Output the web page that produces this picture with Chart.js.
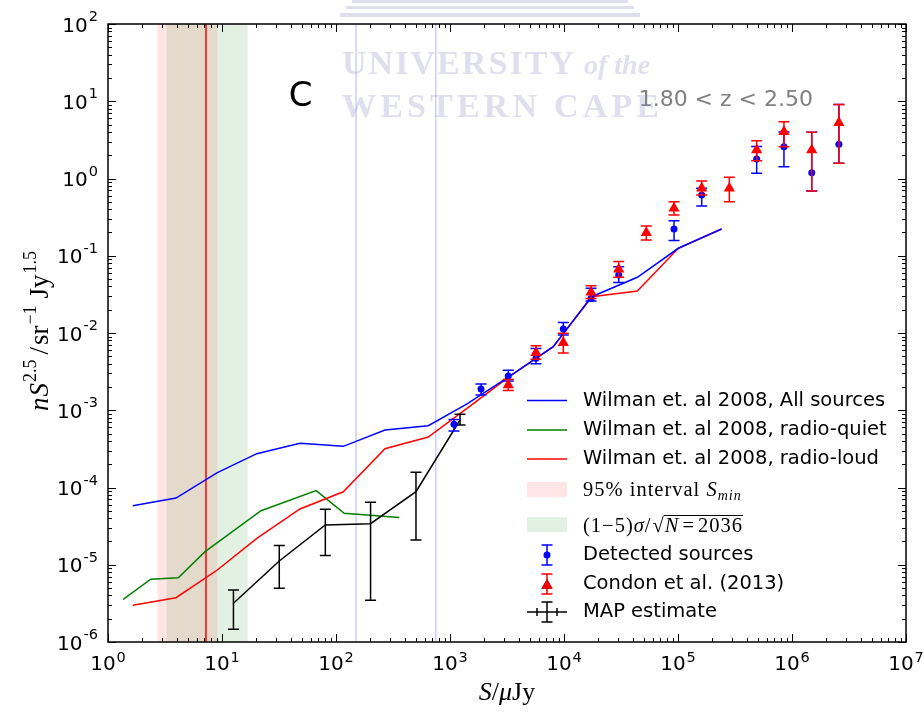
<!DOCTYPE html>
<html lang="en">
<head>
<meta charset="UTF-8" />
<title>Euclidean normalised source counts, 1.80 &lt; z &lt; 2.50</title>
<script src="https://cdn.jsdelivr.net/npm/chart.js@4.4.0/dist/chart.umd.min.js"></script>
<style>
  body { margin: 0; background: #fff; }
  canvas { display: block; }
</style>
</head>
<body>
<canvas id="chart" width="924" height="717"></canvas>
<script>
// Wilman et al. (2008) simulated counts, flux bins in uJy
const wilmanS = [1.65, 3.95, 9.1, 20.2, 48.3, 116, 269, 645, 1400, 3400, 8050, 17500, 44000, 100700, 241000];
const wilmanAll = [5.8e-5, 7.3e-5, 1.56e-4, 2.74e-4, 3.73e-4, 3.41e-4, 5.55e-4, 6.3e-4, 1.2e-3, 2.8e-3, 6.65e-3, 2.95e-2, 5.26e-2, 0.125, 0.222];
const wilmanLoud = [3.0e-6, 3.74e-6, 8.55e-6, 2.2e-5, 5.27e-5, 8.8e-5, 3.18e-4, 4.5e-4, 1.05e-3, 2.8e-3, 6.65e-3, 2.95e-2, 3.5e-2, 0.125, 0.222];
const quietS = [1.36, 2.37, 4.14, 7.1, 22, 67, 118, 359];
const wilmanQuiet = [3.57e-6, 6.5e-6, 6.8e-6, 1.48e-5, 5.0e-5, 9.1e-5, 4.63e-5, 4.1e-5];

// detected sources
const detS = [1084, 1870, 3245, 5680, 9860, 17260, 30200, 92300, 161400, 490000, 850000, 1490000, 2580000];
const detN = [6.6e-4, 1.88e-3, 2.77e-3, 4.7e-3, 1.13e-2, 2.8e-2, 5.63e-2, 0.222, 0.61, 1.79, 2.58, 1.19, 2.77];
const detHi = [7.6e-4, 2.19e-3, 3.3e-3, 6.3e-3, 1.37e-2, 3.8e-2, 7.2e-2, 0.284, 0.746, 2.6, 4.0, 3.96, 9.1];
const detLo = [5.4e-4, 1.57e-3, 2.4e-3, 4.0e-3, 9.4e-3, 2.6e-2, 4.5e-2, 0.157, 0.44, 1.17, 1.42, 0.69, 1.58];

// Condon et al. (2013)
const condonS = [3245, 5680, 9860, 17260, 30200, 52700, 92300, 161400, 282000, 490000, 850000, 1490000, 2580000];
const condonN = [2.12e-3, 5.56e-3, 7.5e-3, 3.36e-2, 6.67e-2, 0.199, 0.411, 0.746, 0.746, 2.34, 4.03, 2.34, 5.28];
const condonHi = [2.5e-3, 6.85e-3, 9.9e-3, 4.1e-2, 8.4e-2, 0.243, 0.5, 0.93, 1.04, 3.08, 5.43, 3.96, 9.1];
const condonLo = [1.8e-3, 4.57e-3, 5.5e-3, 2.8e-2, 5.26e-2, 0.16, 0.337, 0.61, 0.5, 1.7, 2.58, 0.69, 1.58];

// MAP estimate
const mapS = [12.6, 31.8, 80.6, 201, 503, 1224];
const mapN = [3.17e-6, 1.12e-5, 3.27e-5, 3.4e-5, 8.83e-5, 7.48e-4];
const mapHi = [4.71e-6, 1.77e-5, 5.22e-5, 6.43e-5, 1.57e-4, 8.85e-4];
const mapLo = [1.46e-6, 4.95e-6, 1.32e-5, 3.47e-6, 2.09e-5, 6.44e-4];

// vertical markers (uJy)
const sminBand = [2.71, 9.1];
const noiseBand = [3.27, 16.8];
const sminLine = 7.19;
const markLines = [150, 750];

// axis decades
const xDecades = [0, 1, 2, 3, 4, 5, 6, 7];
const yDecades = [-6, -5, -4, -3, -2, -1, 0, 1, 2];

const SANS = '"DejaVu Sans", sans-serif';
const SERIF = '"Liberation Serif", serif';

const pts = (xs, ys) => xs.map((x, i) => ({ x: x, y: ys[i] }));

// write a list of [text, font, dy, gapAfter] pieces one after another
function richText(ctx, parts, x, y, align) {
  let w = 0;
  parts.forEach(p => { ctx.font = p[1]; w += ctx.measureText(p[0]).width + (p[3] || 0); });
  let cx = align === 'center' ? x - w / 2 : (align === 'right' ? x - w : x);
  const pos = [];
  parts.forEach(p => {
    ctx.font = p[1];
    pos.push(cx);
    ctx.fillText(p[0], cx, y + (p[2] || 0));
    cx += ctx.measureText(p[0]).width + (p[3] || 0);
  });
  pos.push(cx);
  return pos;
}

const bands = {
  id: 'bands',
  beforeDatasetsDraw(chart) {
    const { ctx, chartArea: a, scales: { x } } = chart;
    ctx.save();
    ctx.fillStyle = 'rgba(255,0,0,0.1)';
    ctx.fillRect(x.getPixelForValue(sminBand[0]), a.top,
      x.getPixelForValue(sminBand[1]) - x.getPixelForValue(sminBand[0]), a.bottom - a.top);
    ctx.fillStyle = 'rgba(0,128,0,0.11)';
    ctx.fillRect(x.getPixelForValue(noiseBand[0]), a.top,
      x.getPixelForValue(noiseBand[1]) - x.getPixelForValue(noiseBand[0]), a.bottom - a.top);
    ctx.lineWidth = 1.5;
    ctx.strokeStyle = 'rgba(0,0,255,0.2)';
    markLines.forEach(v => {
      const px = x.getPixelForValue(v);
      ctx.beginPath(); ctx.moveTo(px, a.top); ctx.lineTo(px, a.bottom); ctx.stroke();
    });
    ctx.strokeStyle = 'red';
    const px = Math.round(x.getPixelForValue(sminLine));
    ctx.beginPath(); ctx.moveTo(px, a.top); ctx.lineTo(px, a.bottom); ctx.stroke();
    ctx.restore();
  }
};

const errorBars = {
  id: 'errorBars',
  beforeDatasetDraw(chart, args) {
    const ds = chart.data.datasets[args.index];
    if (!ds.errHi) return;
    const { ctx, scales: { x, y } } = chart;
    ctx.save();
    ctx.strokeStyle = ds.errColor;
    ctx.lineWidth = 1.5;
    ds.data.forEach((p, i) => {
      const px = x.getPixelForValue(p.x);
      const top = y.getPixelForValue(ds.errHi[i]);
      const bot = y.getPixelForValue(ds.errLo[i]);
      ctx.beginPath();
      ctx.moveTo(px, top); ctx.lineTo(px, bot);
      ctx.moveTo(px - 5.5, top); ctx.lineTo(px + 5.5, top);
      ctx.moveTo(px - 5.5, bot); ctx.lineTo(px + 5.5, bot);
      ctx.stroke();
    });
    ctx.restore();
  }
};

const frame = {
  id: 'frame',
  afterDraw(chart) {
    const { ctx, chartArea: a, scales: { x, y } } = chart;
    ctx.save();
    ctx.strokeStyle = '#000';
    ctx.fillStyle = '#000';

    // inward ticks on all four sides
    ctx.lineWidth = 1;
    ctx.beginPath();
    xDecades.forEach(d => {
      for (let m = 1; m < 10; m++) {
        if (d === xDecades[xDecades.length - 1] && m > 1) break;
        const px = Math.round(x.getPixelForValue(m * Math.pow(10, d))) + 0.5;
        const len = m === 1 ? 8 : 4;
        ctx.moveTo(px, a.bottom); ctx.lineTo(px, a.bottom - len);
        ctx.moveTo(px, a.top); ctx.lineTo(px, a.top + len);
      }
    });
    yDecades.forEach(d => {
      for (let m = 1; m < 10; m++) {
        if (d === yDecades[yDecades.length - 1] && m > 1) break;
        const py = Math.round(y.getPixelForValue(m * Math.pow(10, d))) + 0.5;
        const len = m === 1 ? 8 : 4;
        ctx.moveTo(a.left, py); ctx.lineTo(a.left + len, py);
        ctx.moveTo(a.right, py); ctx.lineTo(a.right - len, py);
      }
    });
    ctx.stroke();
    ctx.lineWidth = 1.5;
    ctx.strokeRect(a.left, a.top, a.right - a.left, a.bottom - a.top);

    // tick labels 10^k
    ctx.textBaseline = 'alphabetic';
    const big = '20px ' + SANS, sup = '14.5px ' + SANS;
    xDecades.forEach(d => {
      const px = x.getPixelForValue(Math.pow(10, d));
      ctx.font = big; const w1 = ctx.measureText('10').width;
      ctx.font = sup; const w2 = ctx.measureText(String(d)).width;
      const s = px - (w1 + w2 + 1) / 2;
      ctx.font = big; ctx.fillText('10', s, 670);
      ctx.font = sup; ctx.fillText(String(d), s + w1 + 1, 661.5);
    });
    yDecades.forEach(d => {
      const py = y.getPixelForValue(Math.pow(10, d));
      const e = String(d);
      ctx.font = sup; const w2 = ctx.measureText(e).width;
      ctx.font = big; const w1 = ctx.measureText('10').width;
      const s = 98 - w2 - 1 - w1;
      ctx.fillText('10', s, py + 7.5);
      ctx.font = sup; ctx.fillText(e, s + w1 + 1, py - 3);
    });

    // axis titles
    richText(ctx, [
      ['S', 'italic 26px ' + SERIF],
      ['/', '26px ' + SERIF],
      ['\u03bc', 'italic 26px ' + SERIF],
      ['Jy', '26px ' + SERIF]
    ], (a.left + a.right) / 2, 700, 'center');

    ctx.save();
    ctx.translate(48, 331);
    ctx.rotate(-Math.PI / 2);
    richText(ctx, [
      ['n', 'italic 27px ' + SERIF, 0, 1],
      ['S', 'italic 27px ' + SERIF, 0, 1],
      ['2.5', '18px ' + SERIF, -12, 5],
      ['/', '27px ' + SERIF, 0, 2],
      ['sr', '27px ' + SERIF, 0, 1],
      ['\u22121', '18px ' + SERIF, -12, 7],
      ['Jy', '27px ' + SERIF, 0, 1],
      ['1.5', '18px ' + SERIF, -12]
    ], 0, 0, 'center');
    ctx.restore();

    // panel letter and redshift range
    ctx.font = '34px ' + SANS;
    ctx.textAlign = 'center';
    ctx.fillText('C', 300.5, 106);
    ctx.textAlign = 'right';
    ctx.fillStyle = '#808080';
    ctx.font = '22px ' + SANS;
    ctx.fillText('1.80 < z < 2.50', 813, 106);
    ctx.textAlign = 'left';
    ctx.restore();
  }
};

const legendBox = {
  id: 'legendBox',
  afterDraw(chart) {
    const { ctx } = chart;
    const x0 = 527, x1 = 567, xm = 547, tx = 583;
    ctx.save();
    ctx.textBaseline = 'middle';
    ctx.font = '19.5px ' + SANS;
    ctx.fillStyle = '#000';
    ctx.lineWidth = 1.5;

    [['blue', 'Wilman et. al 2008, All sources', 400.5],
     ['green', 'Wilman et. al 2008, radio-quiet', 430],
     ['red', 'Wilman et. al 2008, radio-loud', 459]].forEach(r => {
      ctx.strokeStyle = r[0];
      ctx.beginPath(); ctx.moveTo(x0, r[2]); ctx.lineTo(x1, r[2]); ctx.stroke();
      ctx.fillText(r[1], tx, r[2]);
    });

    ctx.fillStyle = 'rgba(255,0,0,0.1)';
    ctx.fillRect(x0, 482, x1 - x0, 15);
    ctx.fillStyle = 'rgba(0,128,0,0.11)';
    ctx.fillRect(x0, 517, x1 - x0, 15);

    ctx.fillStyle = '#000';
    ctx.textBaseline = 'alphabetic';
    ctx.letterSpacing = '1px';
    richText(ctx, [
      ['95% interval ', '20.5px ' + SERIF],
      ['S', 'italic 20.5px ' + SERIF],
      ['min', 'italic 14px ' + SERIF, 4]
    ], tx, 496, 'left');
    const p = richText(ctx, [
      ['(1\u22125)', '20.5px ' + SERIF],
      ['\u03c3', 'italic 20.5px ' + SERIF],
      ['/', '20.5px ' + SERIF, 0, 1],
      ['\u221a', '20.5px ' + SERIF],
      ['N', 'italic 20.5px ' + SERIF, 0, 3],
      ['=', '20.5px ' + SERIF, 0, 3],
      ['2036', '20.5px ' + SERIF]
    ], tx, 532, 'left');
    ctx.letterSpacing = '0px';
    ctx.lineWidth = 1;
    ctx.strokeStyle = '#000';
    ctx.beginPath(); ctx.moveTo(p[4] - 1, 515.5); ctx.lineTo(p[7], 515.5); ctx.stroke();

    ctx.textBaseline = 'middle';
    ctx.font = '19.5px ' + SANS;
    ctx.lineWidth = 1.5;
    // detected sources marker
    ctx.strokeStyle = 'blue';
    ctx.beginPath();
    ctx.moveTo(xm, 545); ctx.lineTo(xm, 565);
    ctx.moveTo(xm - 5.5, 545); ctx.lineTo(xm + 5.5, 545);
    ctx.moveTo(xm - 5.5, 565); ctx.lineTo(xm + 5.5, 565);
    ctx.stroke();
    ctx.fillStyle = 'blue';
    ctx.beginPath(); ctx.arc(xm, 555, 3.5, 0, Math.PI * 2); ctx.fill();
    ctx.fillStyle = '#000';
    ctx.fillText('Detected sources', tx, 555);

    // Condon marker
    ctx.strokeStyle = 'red';
    ctx.beginPath();
    ctx.moveTo(xm, 574); ctx.lineTo(xm, 594);
    ctx.moveTo(xm - 5.5, 574); ctx.lineTo(xm + 5.5, 574);
    ctx.moveTo(xm - 5.5, 594); ctx.lineTo(xm + 5.5, 594);
    ctx.stroke();
    Chart.helpers.drawPoint(ctx, { pointStyle: 'triangle', radius: 6.5, borderWidth: 0 }, xm, 585.5);
    ctx.fillStyle = 'red';
    ctx.fill();
    ctx.fillStyle = '#000';
    ctx.fillText('Condon et al. (2013)', tx, 584);

    // MAP marker
    ctx.strokeStyle = '#000';
    ctx.beginPath();
    ctx.moveTo(x0, 612); ctx.lineTo(x1, 612);
    ctx.moveTo(xm - 10, 608); ctx.lineTo(xm - 10, 616);
    ctx.moveTo(xm + 10, 608); ctx.lineTo(xm + 10, 616);
    ctx.moveTo(xm, 602); ctx.lineTo(xm, 622);
    ctx.moveTo(xm - 5.5, 602); ctx.lineTo(xm + 5.5, 602);
    ctx.moveTo(xm - 5.5, 622); ctx.lineTo(xm + 5.5, 622);
    ctx.stroke();
    ctx.fillText('MAP estimate', tx, 612);
    ctx.restore();
  }
};

// faint university crest and name printed over the page
const stamp = {
  id: 'stamp',
  afterDraw(chart) {
    const { ctx } = chart;
    ctx.save();
    ctx.fillStyle = 'rgba(150,150,200,0.3)';
    ctx.fillRect(352, 0, 276, 3);
    ctx.fillRect(346, 6, 288, 3);
    ctx.fillRect(340, 13, 300, 4);
    const spaced = (txt, font, x, y, width) => {
      ctx.font = font;
      const nat = ctx.measureText(txt).width;
      const gap = (width - nat) / (txt.length - 1);
      let cx = x;
      for (const ch of txt) { ctx.fillText(ch, cx, y); cx += ctx.measureText(ch).width + gap; }
    };
    spaced('UNIVERSITY', 'bold 34px ' + SERIF, 342, 74, 232);
    ctx.font = 'italic bold 28px ' + SERIF;
    ctx.fillText('of the', 584, 74);
    spaced('WESTERN CAPE', 'bold 34px ' + SERIF, 342, 117, 317);
    ctx.restore();
  }
};

new Chart(document.getElementById('chart'), {
  type: 'scatter',
  data: {
    datasets: [
      {
        label: 'Wilman et. al 2008, All sources',
        data: pts(wilmanS, wilmanAll),
        showLine: true, borderColor: 'blue', borderWidth: 1.5, pointRadius: 0, order: 4
      },
      {
        label: 'Wilman et. al 2008, radio-quiet',
        data: pts(quietS, wilmanQuiet),
        showLine: true, borderColor: 'green', borderWidth: 1.5, pointRadius: 0, order: 5
      },
      {
        label: 'Wilman et. al 2008, radio-loud',
        data: pts(wilmanS, wilmanLoud),
        showLine: true, borderColor: 'red', borderWidth: 1.5, pointRadius: 0, order: 4
      },
      {
        label: 'Detected sources',
        data: pts(detS, detN),
        errHi: detHi, errLo: detLo, errColor: 'blue',
        pointStyle: 'circle', pointRadius: 3.5, backgroundColor: 'blue', borderWidth: 0, order: 2
      },
      {
        label: 'Condon et al. (2013)',
        data: pts(condonS, condonN),
        errHi: condonHi, errLo: condonLo, errColor: 'red',
        pointStyle: 'triangle', pointRadius: 6.5, backgroundColor: 'red', borderWidth: 0, order: 1
      },
      {
        label: 'MAP estimate',
        data: pts(mapS, mapN),
        errHi: mapHi, errLo: mapLo, errColor: 'black',
        showLine: true, borderColor: 'black', borderWidth: 1.5, pointRadius: 0, order: 3
      }
    ]
  },
  options: {
    responsive: false,
    animation: false,
    devicePixelRatio: 1,
    events: [],
    layout: { padding: { left: 108, right: 18, top: 24, bottom: 75 } },
    scales: {
      x: { type: 'logarithmic', min: 1, max: 1e7, display: false },
      y: { type: 'logarithmic', min: 1e-6, max: 100, display: false }
    },
    plugins: { legend: { display: false }, tooltip: { enabled: false } }
  },
  plugins: [bands, errorBars, frame, legendBox, stamp]
});
</script>
</body>
</html>
